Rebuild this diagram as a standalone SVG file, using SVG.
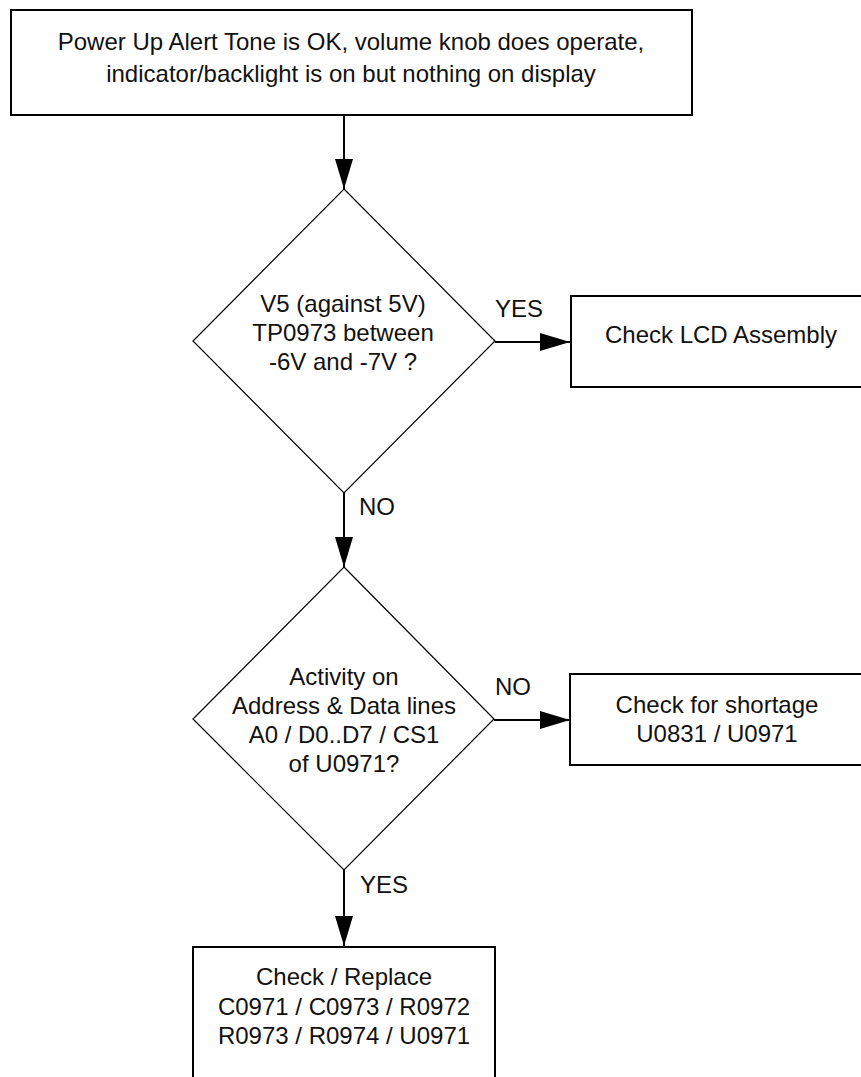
<svg xmlns="http://www.w3.org/2000/svg" width="861" height="1077" viewBox="0 0 861 1077">
  <style>
    .box { fill: #fff; stroke: #000; stroke-width: 2; }
    .dia { fill: #fff; stroke: #000; stroke-width: 1.2; }
    .t { font-family: "Liberation Sans", Arial, sans-serif; font-size: 24px; fill: #111; text-anchor: middle; }
    .lbl { font-family: "Liberation Sans", Arial, sans-serif; font-size: 24px; fill: #111; }
    .conn { stroke: #000; stroke-width: 2; fill: none; marker-end: url(#arrow); }
  </style>
  <defs>
    <marker id="arrow" markerUnits="userSpaceOnUse" markerWidth="30" markerHeight="18" refX="30" refY="9" orient="auto">
      <path d="M0,0 L30,9 L0,18 z" fill="#000"/>
    </marker>
  </defs>
  <rect width="861" height="1077" fill="#fff"/>

  <g id="connectors">
    <line class="conn" x1="344" y1="115" x2="344" y2="189"/>
    <line class="conn" x1="495" y1="342" x2="570" y2="342"/>
    <line class="conn" x1="344" y1="493" x2="344" y2="567"/>
    <line class="conn" x1="494" y1="720" x2="570" y2="720"/>
    <line class="conn" x1="344" y1="870" x2="344" y2="946"/>
    <text class="lbl" x="495" y="317">YES</text>
    <text class="lbl" x="359" y="515">NO</text>
    <text class="lbl" x="495" y="695">NO</text>
    <text class="lbl" x="360" y="893">YES</text>
  </g>

  <g id="start">
    <rect class="box" x="11" y="10" width="681" height="105"/>
    <text class="t" x="351" y="50">Power Up Alert Tone is OK, volume knob does operate,</text>
    <text class="t" x="351" y="82">indicator/backlight is on but nothing on display</text>
  </g>

  <g id="decision1">
    <polygon class="dia" points="344,189 495,341 344,493 193,341"/>
    <text class="t" x="343" y="312">V5 (against 5V)</text>
    <text class="t" x="343" y="341">TP0973 between</text>
    <text class="t" x="343" y="370">-6V and -7V ?</text>
  </g>

  <g id="lcd">
    <rect class="box" x="571" y="296" width="300" height="91"/>
    <text class="t" x="721" y="343">Check LCD Assembly</text>
  </g>

  <g id="decision2">
    <polygon class="dia" points="344,567 494,719 344,870 193,719"/>
    <text class="t" x="344" y="685">Activity on</text>
    <text class="t" x="344" y="714">Address &amp; Data lines</text>
    <text class="t" x="344" y="743">A0 / D0..D7 / CS1</text>
    <text class="t" x="344" y="772">of U0971?</text>
  </g>

  <g id="shortage">
    <rect class="box" x="570" y="674" width="300" height="91"/>
    <text class="t" x="717" y="713">Check for shortage</text>
    <text class="t" x="717" y="742">U0831 / U0971</text>
  </g>

  <g id="replace">
    <rect class="box" x="193" y="947" width="302" height="140"/>
    <text class="t" x="344" y="985">Check / Replace</text>
    <text class="t" x="344" y="1015">C0971 / C0973 / R0972</text>
    <text class="t" x="344" y="1044">R0973 / R0974 / U0971</text>
  </g>
</svg>
